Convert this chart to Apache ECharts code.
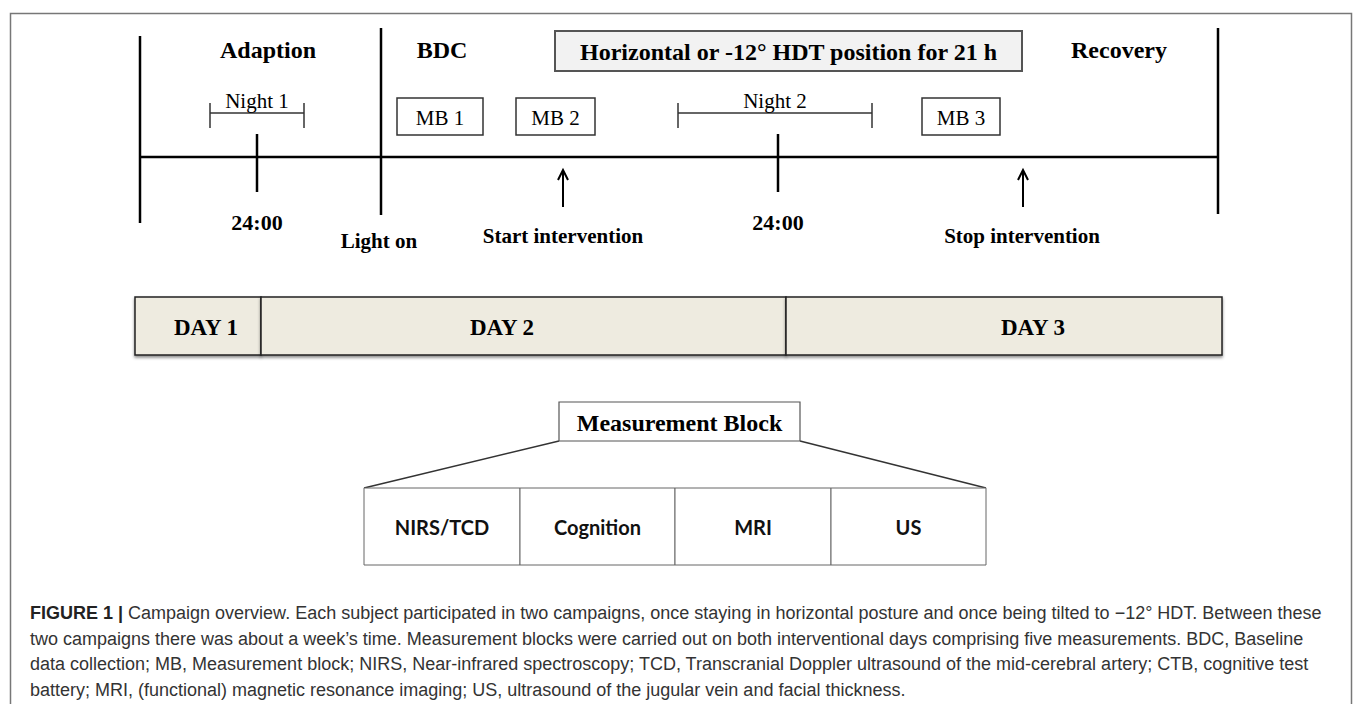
<!DOCTYPE html>
<html>
<head>
<meta charset="utf-8">
<title>Campaign overview</title>
<script src="https://cdn.jsdelivr.net/npm/echarts/dist/echarts.min.js"></script>
<style>
  html, body { margin: 0; padding: 0; background: #fff; }
  #chart { width: 1357px; height: 704px; }
</style>
</head>
<body>
<div id="chart"></div>
<script>
// diagram units == page pixels of the original figure
const axisLine = [[140, 157], [1218, 157]];
const boundaries = [[140, 36, 223], [381, 28, 215], [1218, 28, 214]];
const midnights = [[257, 134, 192], [778, 134, 192]];
const midnightLabels = ['24:00', '24:00'];
const phaseNames = ['Adaption', 'BDC', 'Recovery'];
const phasePos = [[268, 50], [442, 50], [1119, 50]];
const positionText = ['Horizontal or -12° HDT position for 21 h'];
const positionBox = [[555, 31, 1022, 71]];
const nightNames = ['Night 1', 'Night 2'];
const nightSpans = [[210, 304, 113], [678, 872, 113]];
const mbNames = ['MB 1', 'MB 2', 'MB 3'];
const mbBoxes = [[397, 98, 483, 135], [516, 98, 595, 135], [922, 98, 1000, 135]];
const eventNames = ['Light on', 'Start intervention', 'Stop intervention'];
const eventPos = [[379, 241], [563, 236], [1022, 236]];
const arrows = [[563, 207, 170], [1023, 207, 170]];
const dayNames = ['DAY 1', 'DAY 2', 'DAY 3'];
const dayCells = [[135, 297, 261, 355], [261, 297, 786, 355], [786, 297, 1222, 355]];
const dayLabelX = [206, 502, 1033];
const blockTitle = ['Measurement Block'];
const blockTitleBox = [[559, 402, 800, 441]];
const blockParts = ['NIRS/TCD', 'Cognition', 'MRI', 'US'];
const blockCells = [[364, 488, 520, 565], [520, 488, 675, 565], [675, 488, 831, 565], [831, 488, 986, 565]];
const blockFan = [[559, 441, 364, 488], [800, 441, 986, 488]];

const caption = [
  '{b|FIGURE 1 |} Campaign overview. Each subject participated in two campaigns, once staying in horizontal posture and once being tilted to \u221212° HDT. Between these',
  'two campaigns there was about a week\u2019s time. Measurement blocks were carried out on both interventional days comprising five measurements. BDC, Baseline',
  'data collection; MB, Measurement block; NIRS, Near-infrared spectroscopy; TCD, Transcranial Doppler ultrasound of the mid-cerebral artery; CTB, cognitive test',
  'battery; MRI, (functional) magnetic resonance imaging; US, ultrasound of the jugular vein and facial thickness.'
];

const serif = '"Liberation Serif", "Times New Roman", serif';
const sans = 'Lato, "Liberation Sans", sans-serif';

function seg(api, x1, y1, x2, y2, width, color) {
  const a = api.coord([x1, y1]), b = api.coord([x2, y2]);
  return {
    type: 'line',
    shape: { x1: a[0], y1: a[1], x2: b[0], y2: b[1] },
    style: { stroke: color || '#000', lineWidth: width }
  };
}
function rect(api, x1, y1, x2, y2, style) {
  const a = api.coord([x1, y1]), b = api.coord([x2, y2]);
  return {
    type: 'rect',
    shape: { x: a[0], y: a[1], width: b[0] - a[0], height: b[1] - a[1] },
    style: style
  };
}
function label(api, x, y, text, font, color) {
  const p = api.coord([x, y]);
  return {
    type: 'text', x: p[0], y: p[1],
    style: { text: text, font: font, fill: color || '#000', align: 'center', verticalAlign: 'middle' }
  };
}
function custom(name, data, render) {
  return {
    name: name, type: 'custom', coordinateSystem: 'cartesian2d',
    clip: false, silent: true, data: data, renderItem: render
  };
}

const chart = echarts.init(document.getElementById('chart'), null, { renderer: 'svg' });
chart.setOption({
  animation: false,
  backgroundColor: '#fff',
  grid: { left: 0, right: 0, top: 0, bottom: 0 },
  xAxis: { type: 'value', min: 0, max: 1357, show: false },
  yAxis: { type: 'value', min: 0, max: 704, inverse: true, show: false },
  graphic: [
    {
      type: 'rect', left: 8, top: 11, silent: true,
      shape: { width: 1341, height: 720 },
      style: { fill: 'none', stroke: '#777', lineWidth: 1.5 }
    },
    {
      type: 'text', left: 30, top: 600, silent: true,
      style: {
        text: caption.join('\n'),
        font: '18px "Liberation Sans", Arial, sans-serif',
        fill: '#333',
        lineHeight: 25.7,
        rich: {
          b: { fontWeight: 'bold', fontSize: 18, fontFamily: '"Liberation Sans", Arial, sans-serif', fill: '#222', lineHeight: 25.7 }
        }
      }
    }
  ],
  series: [
    {
      name: 'time axis', type: 'line', data: axisLine, symbol: 'none', silent: true,
      lineStyle: { color: '#000', width: 2.5 }
    },
    custom('boundaries', boundaries, function (params, api) {
      return seg(api, api.value(0), api.value(1), api.value(0), api.value(2), 2.5);
    }),
    custom('midnights', midnights, function (params, api) {
      const x = api.value(0);
      return { type: 'group', children: [
        seg(api, x, api.value(1), x, api.value(2), 2.5),
        label(api, x, 222, midnightLabels[params.dataIndex], 'bold 22px ' + serif)
      ] };
    }),
    custom('phases', phasePos, function (params, api) {
      return label(api, api.value(0), api.value(1), phaseNames[params.dataIndex], 'bold 24px ' + serif);
    }),
    custom('position', positionBox, function (params, api) {
      const x1 = api.value(0), y1 = api.value(1), x2 = api.value(2), y2 = api.value(3);
      return { type: 'group', children: [
        rect(api, x1, y1, x2, y2, { fill: '#f2f2f2', stroke: '#555', lineWidth: 2 }),
        label(api, (x1 + x2) / 2, (y1 + y2) / 2 + 1, positionText[params.dataIndex], 'bold 24px ' + serif)
      ] };
    }),
    custom('nights', nightSpans, function (params, api) {
      const x1 = api.value(0), x2 = api.value(1), y = api.value(2);
      return { type: 'group', children: [
        seg(api, x1, y, x2, y, 1.5, '#333'),
        seg(api, x1, y - 10, x1, y + 15, 1.5, '#333'),
        seg(api, x2, y - 10, x2, y + 15, 1.5, '#333'),
        label(api, (x1 + x2) / 2, y - 12, nightNames[params.dataIndex], '21px ' + serif)
      ] };
    }),
    custom('measurement blocks', mbBoxes, function (params, api) {
      const x1 = api.value(0), y1 = api.value(1), x2 = api.value(2), y2 = api.value(3);
      return { type: 'group', children: [
        rect(api, x1, y1, x2, y2, { fill: '#fff', stroke: '#333', lineWidth: 1.5 }),
        label(api, (x1 + x2) / 2, (y1 + y2) / 2 + 1, mbNames[params.dataIndex], '21px ' + serif)
      ] };
    }),
    custom('events', eventPos, function (params, api) {
      return label(api, api.value(0), api.value(1), eventNames[params.dataIndex], 'bold 21px ' + serif);
    }),
    custom('arrows', arrows, function (params, api) {
      const x = api.value(0), yb = api.value(1), yt = api.value(2);
      const p1 = api.coord([x - 5, yt + 10]), p2 = api.coord([x, yt]), p3 = api.coord([x + 5, yt + 10]);
      return { type: 'group', children: [
        seg(api, x, yb, x, yt + 1, 2),
        { type: 'polyline', shape: { points: [p1, p2, p3] }, style: { stroke: '#000', lineWidth: 2, fill: 'none' } }
      ] };
    }),
    custom('days', dayCells, function (params, api) {
      const x1 = api.value(0), y1 = api.value(1), x2 = api.value(2), y2 = api.value(3);
      return { type: 'group', children: [
        rect(api, x1, y1, x2, y2, {
          fill: '#eeebe0', stroke: '#222', lineWidth: 1.5,
          shadowColor: 'rgba(0,0,0,0.45)', shadowBlur: 3, shadowOffsetY: 2
        }),
        label(api, dayLabelX[params.dataIndex], (y1 + y2) / 2 + 1, dayNames[params.dataIndex], 'bold 23px ' + serif)
      ] };
    }),
    custom('block fan', blockFan, function (params, api) {
      return seg(api, api.value(0), api.value(1), api.value(2), api.value(3), 1.5, '#333');
    }),
    custom('block title', blockTitleBox, function (params, api) {
      const x1 = api.value(0), y1 = api.value(1), x2 = api.value(2), y2 = api.value(3);
      return { type: 'group', children: [
        rect(api, x1, y1, x2, y2, { fill: '#fff', stroke: '#555', lineWidth: 1.2 }),
        label(api, (x1 + x2) / 2, (y1 + y2) / 2 + 1, blockTitle[params.dataIndex], 'bold 24px ' + serif)
      ] };
    }),
    custom('block parts', blockCells, function (params, api) {
      const x1 = api.value(0), y1 = api.value(1), x2 = api.value(2), y2 = api.value(3);
      return { type: 'group', children: [
        rect(api, x1, y1, x2, y2, { fill: '#fff', stroke: '#666', lineWidth: 1 }),
        label(api, (x1 + x2) / 2, (y1 + y2) / 2, blockParts[params.dataIndex], 'bold 20px ' + sans, '#111')
      ] };
    })
  ]
});
window.addEventListener('resize', function () { chart.resize(); });
</script>
</body>
</html>
